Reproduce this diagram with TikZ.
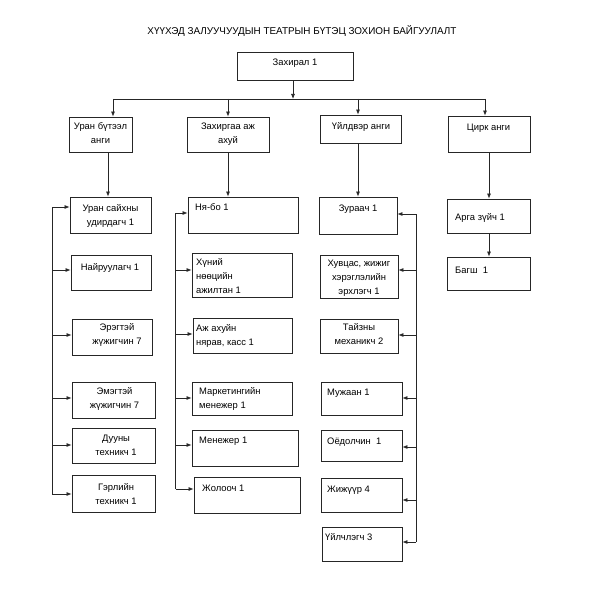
\documentclass[tikz,border=0pt]{standalone}
\usepackage{fontspec}
\setmainfont{Liberation Sans}
\usetikzlibrary{arrows.meta}
\begin{document}
\begin{tikzpicture}[x=1pt,y=-1pt,
  box/.style={draw=black!85, line width=0.8pt, inner sep=0pt},
  txt/.style={font=\fontsize{9.4}{14}\selectfont, inner sep=0pt, align=center, anchor=north},
  ltxt/.style={font=\fontsize{9.4}{14}\selectfont, inner sep=0pt, align=left, anchor=north west},
  ttl/.style={font=\fontsize{9.9}{12}\selectfont, inner sep=0pt, anchor=north},
  arr/.style={draw=black!85, line width=0.75pt, -{Latex[length=5pt,width=4pt]}},
  ln/.style={draw=black!85, line width=0.75pt}]
\useasboundingbox[fill=white] (0,0) rectangle (591,591);
\newcommand\bx[5]{\node[box, minimum width={(#4-#2)*1pt}, minimum height={(#5-#3)*1pt}] (#1) at ({(#2+#4)/2},{(#3+#5)/2}) {};}

% title
\node[ttl] (title) at (302,25.5) {ХҮҮХЭД ЗАЛУУЧУУДЫН ТЕАТРЫН БҮТЭЦ ЗОХИОН БАЙГУУЛАЛТ};

% boxes
\bx{dir}{237}{52}{353}{80}
\bx{ub}{69}{117}{132}{152}
\bx{za}{187}{117}{269}{152}
\bx{ui}{320}{115}{401}{143}
\bx{ci}{448}{116}{530}{152}

\bx{a1}{70}{197}{151}{233}
\bx{a2}{71}{255}{151}{290}
\bx{a3}{72}{319}{152}{355}
\bx{a4}{72}{382}{155}{418}
\bx{a5}{72}{428}{155}{463}
\bx{a6}{72}{475}{155}{512}

\bx{b1}{188}{197}{298}{233}
\bx{b2}{192}{253}{292}{297}
\bx{b3}{193}{318}{292}{353}
\bx{b4}{192}{382}{292}{415}
\bx{b5}{192}{430}{298}{466}
\bx{b6}{194}{477}{300}{513}

\bx{c1}{319}{197}{397}{234}
\bx{c2}{320}{255}{398}{298}
\bx{c3}{320}{319}{398}{353}
\bx{c4}{321}{382}{402}{415}
\bx{c5}{321}{430}{402}{461}
\bx{c6}{321}{478}{402}{512}
\bx{c7}{322}{527}{402}{561}

\bx{d1}{447}{199}{530}{233}
\bx{d2}{447}{257}{530}{290}

% texts
\node[txt] (tdir) at (295,59) {Захирал 1};
\node[txt] (tub) at (100.5,122.5) {Уран бүтээл\\анги};
\node[txt] (tza) at (228,122.5) {Захиргаа аж\\ахуй};
\node[txt] (tui) at (361,122.5) {Үйлдвэр анги};
\node[txt] (tci) at (488.5,123.5) {Цирк анги};

\node[txt] (ta1) at (110.5,204.5) {Уран сайхны\\удирдагч 1};
\node[txt] (ta2) at (110,263.5) {Найруулагч 1};
\node[txt] (ta3) at (117,323.5) {Эрэгтэй\\жүжигчин 7};
\node[txt] (ta4) at (114.5,387.5) {Эмэгтэй\\жүжигчин 7};
\node[txt] (ta5) at (116,434.5) {Дууны\\техникч 1};
\node[txt] (ta6) at (116,483.5) {Гэрлийн\\техникч 1};

\node[ltxt] (tb1) at (195,203.5) {Ня-бо 1};
\node[ltxt] (tb2) at (196,258.5) {Хүний\\нөөцийн\\ажилтан 1};
\node[ltxt] (tb3) at (196,324.5) {Аж ахуйн\\нярав, касс 1};
\node[ltxt] (tb4) at (199,387.5) {Маркетингийн\\менежер 1};
\node[ltxt] (tb5) at (199,436.5) {Менежер 1};
\node[ltxt] (tb6) at (202,484.5) {Жолооч 1};

\node[txt] (tc1) at (358,204.5) {Зураач 1};
\node[txt] (tc2) at (359,259.5) {Хувцас, жижиг\\хэрэглэлийн\\эрхлэгч 1};
\node[txt] (tc3) at (359,323.5) {Тайзны\\механикч 2};
\node[ltxt] (tc4) at (327,388.5) {Мужаан 1};
\node[ltxt] (tc5) at (327,437.5) {Оёдолчин\ \ 1};
\node[ltxt] (tc6) at (327,485.5) {Жижүүр 4};
\node[ltxt] (tc7) at (325,533.5) {Үйлчлэгч 3};

\node[ltxt] (td1) at (455,213.5) {Арга зүйч 1};
\node[ltxt] (td2) at (455,266.5) {Багш\ \ 1};

% top bus
\coordinate (busL) at (113,99);
\coordinate (busR) at (485,99);
\coordinate (busM) at (293,99);
\coordinate (busB) at (228,99);
\coordinate (busC) at (358,99);
\draw[arr] (dir.south -| busM) -- (busM);
\draw[ln] (busL) -- (busR);
\draw[arr] (busL) -- (busL |- ub.north);
\draw[arr] (busB) -- (busB |- za.north);
\draw[arr] (busC) -- (busC |- ui.north);
\draw[arr] (busR) -- (busR |- ci.north);

% column heads
\coordinate (xa) at (108,0);
\coordinate (xc) at (358,0);
\coordinate (xd) at (489,0);
\draw[arr] (ub.south -| xa) -- (a1.north -| xa);
\draw[arr] (za.south) -- (b1.north -| za.south);
\draw[arr] (ui.south -| xc) -- (c1.north -| xc);
\draw[arr] (ci.south -| xd) -- (d1.north -| xd);
\draw[arr] (d1.south -| xd) -- (d2.north -| xd);

% left bus column 1
\coordinate (la1) at (52,207);
\coordinate (la2) at (52,270);
\coordinate (la3) at (52,335);
\coordinate (la4) at (52,398);
\coordinate (la5) at (52,445);
\coordinate (la6) at (52,494);
\draw[ln] (la1) -- (la6);
\foreach \i in {1,...,6} {\draw[arr] (la\i) -- (la\i -| a\i.west);}

% left bus column 2
\coordinate (lb1) at (175.5,213);
\coordinate (lb2) at (175.5,270);
\coordinate (lb3) at (175.5,334);
\coordinate (lb4) at (175.5,398);
\coordinate (lb5) at (175.5,445);
\coordinate (lb6) at (175.5,489);
\draw[ln] (lb1) -- (lb6);
\foreach \i in {1,...,6} {\draw[arr] (lb\i) -- (lb\i -| b\i.west);}

% right bus column 3
\coordinate (rc1) at (416,214);
\coordinate (rc2) at (416,270);
\coordinate (rc3) at (416,335);
\coordinate (rc4) at (416,398);
\coordinate (rc5) at (416,447);
\coordinate (rc6) at (416,500);
\coordinate (rc7) at (416,542);
\draw[ln] (rc1) -- (rc7);
\foreach \i in {1,...,7} {\draw[arr] (rc\i) -- (rc\i -| c\i.east);}
\end{tikzpicture}
\end{document}
